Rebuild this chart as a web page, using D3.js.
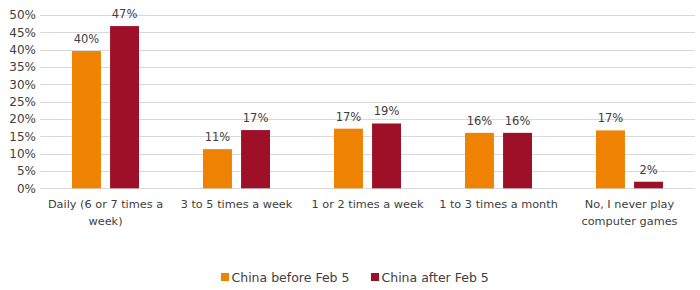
<!DOCTYPE html>
<html>
<head>
<meta charset="utf-8">
<script src="https://cdn.jsdelivr.net/npm/d3@7"></script>
<style>
  body { margin: 0; background: #fff; }
  svg { display: block; }
  .tick text { font-family: "DejaVu Sans", Verdana, sans-serif; font-size: 12px; fill: #404040; }
  .cat { font-family: "DejaVu Sans", sans-serif; font-size: 11.3px; fill: #404040; }
  .val { font-family: "DejaVu Sans", Verdana, sans-serif; font-size: 11.5px; fill: #404040; }
  .leg { font-family: "DejaVu Sans", sans-serif; font-size: 12.5px; fill: #404040; }
</style>
</head>
<body>
<svg id="chart" width="700" height="290"></svg>
<script>
/* grouped bars: gaming frequency before / after Feb 5 */

const categories = [
  ["Daily (6 or 7 times a", "week)"],
  ["3 to 5 times a week"],
  ["1 or 2 times a week"],
  ["1 to 3 times a month"],
  ["No, I never play", "computer games"]
];
const seriesNames  = ["China before Feb 5", "China after Feb 5"];
const beforeValues = [39.6, 11.3, 17.2, 16.0, 16.7];
const afterValues  = [46.8, 16.8, 18.7, 16.0, 1.9];
const beforeLabels = ["40%", "11%", "17%", "16%", "17%"];
const afterLabels  = ["47%", "17%", "19%", "16%", "2%"];
const yTicks = [0, 5, 10, 15, 20, 25, 30, 35, 40, 45, 50];

const colors = ["#EF8200", "#9D1027"];

const svg = d3.select("#chart");
const margin = { left: 40, right: 5, top: 15, bottom: 102 };
const W = 700, H = 290;

const x = d3.scaleBand()
  .domain(d3.range(categories.length))
  .range([margin.left, W - margin.right]);

const y = d3.scaleLinear()
  .domain([0, 50])
  .range([H - margin.bottom + 0.3, margin.top]);

const sub = d3.scaleBand()
  .domain([0, 1])
  .range([-33.5, 33.5])
  .paddingInner(0.24)
  .paddingOuter(0);

/* -- grid + y axis ---------------------------------------------------- */
const yAxis = svg.append("g")
  .attr("transform", `translate(${margin.left},0)`)
  .call(d3.axisLeft(y).tickValues(yTicks).tickFormat(d => d + "%").tickSize(0).tickPadding(4));
yAxis.select(".domain").remove();

svg.append("g").selectAll("line")
  .data(yTicks)
  .join("line")
    .attr("x1", margin.left)
    .attr("x2", W - margin.right)
    .attr("y1", d => Math.round(y(d)) + 0.5)
    .attr("y2", d => Math.round(y(d)) + 0.5)
    .attr("stroke", "#d9d9d9")
    .attr("stroke-width", 1);

/* -- bars ------------------------------------------------------------- */
const series = [
  { vals: beforeValues, labels: beforeLabels },
  { vals: afterValues,  labels: afterLabels }
];

series.forEach((s, si) => {
  const g = svg.append("g");
  const cx = i => x(i) + x.bandwidth() / 2 + sub(si);
  g.selectAll("rect")
    .data(s.vals)
    .join("rect")
      .attr("x", (d, i) => cx(i))
      .attr("width", sub.bandwidth())
      .attr("y", d => y(d))
      .attr("height", d => y(0) - y(d))
      .attr("fill", colors[si]);
  g.selectAll("text")
    .data(s.vals)
    .join("text")
      .attr("class", "val")
      .attr("x", (d, i) => cx(i) + sub.bandwidth() / 2)
      .attr("y", d => y(d) - 8)
      .attr("text-anchor", "middle")
      .text((d, i) => s.labels[i]);
});

/* -- category labels ------------------------------------------------- */
const catG = svg.append("g");
categories.forEach((lines, i) => {
  const t = catG.append("text")
    .attr("class", "cat")
    .attr("text-anchor", "middle")
    .attr("x", x(i) + x.bandwidth() / 2)
    .attr("y", 208);
  lines.forEach((ln, k) => {
    t.append("tspan")
      .attr("x", x(i) + x.bandwidth() / 2)
      .attr("dy", k === 0 ? 0 : 17)
      .text(ln);
  });
});

/* -- legend ----------------------------------------------------------- */
const legX = [221, 371];
seriesNames.forEach((name, i) => {
  const g = svg.append("g").attr("transform", `translate(${legX[i]},273)`);
  g.append("rect").attr("width", 8).attr("height", 8).attr("fill", colors[i]);
  g.append("text").attr("class", "leg").attr("x", 10.5).attr("y", 8.5).text(name);
});
</script>
</body>
</html>
